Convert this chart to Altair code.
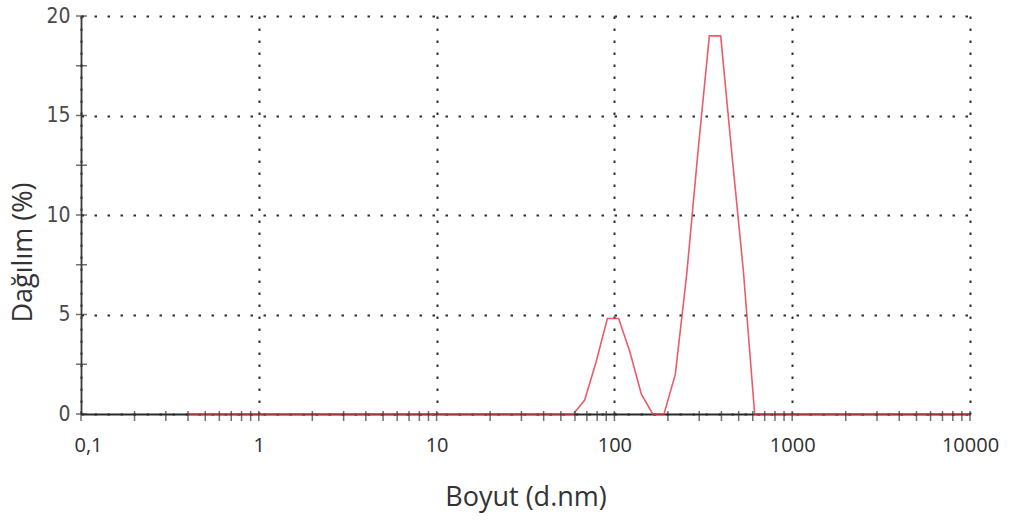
import altair as alt
import pandas as pd

# Size classes (d.nm) and intensity distribution (%)
sizes = [
    0.4, 0.4632, 0.5365, 0.6213, 0.7195, 0.8332, 0.9649,
    1.117, 1.294, 1.499, 1.736, 2.010, 2.328, 2.696, 3.122, 3.615, 4.187, 4.849, 5.615, 6.503, 7.531, 8.721,
    10.10, 11.70, 13.54, 15.69, 18.17, 21.04, 24.36, 28.21, 32.67, 37.84, 43.82, 50.75, 58.77, 68.06, 78.82, 91.28,
    105.7, 122.4, 141.8, 164.2, 190.1, 220.2, 255.0, 295.3, 342.0, 396.1, 458.7, 531.2, 615.1, 712.4, 825.0, 955.4,
    1106, 1281, 1484, 1718, 1990, 2305, 2669, 3091, 3580, 4145, 4801, 5560, 6439, 7456, 8635, 10000,
]
distribution = [
    0, 0, 0, 0, 0, 0, 0,
    0, 0, 0, 0, 0, 0, 0, 0, 0, 0, 0, 0, 0, 0, 0,
    0, 0, 0, 0, 0, 0, 0, 0, 0, 0, 0, 0, 0, 0.7, 2.6, 4.8,
    4.8, 3.1, 1.0, 0, 0, 2.0, 7.0, 13.2, 19.0, 19.0, 13.0, 7.2, 0, 0, 0, 0,
    0, 0, 0, 0, 0, 0, 0, 0, 0, 0, 0, 0, 0, 0, 0, 0,
]

# Axis positions
x_decades = [0.1, 1, 10, 100, 1000, 10000]
x_ticks = [
    0.1, 0.2, 0.3, 0.4, 0.5, 0.6, 0.7, 0.8, 0.9,
    1, 2, 3, 4, 5, 6, 7, 8, 9,
    10, 20, 30, 40, 50, 60, 70, 80, 90,
    100, 200, 300, 400, 500, 600, 700, 800, 900,
    1000, 2000, 3000, 4000, 5000, 6000, 7000, 8000, 9000,
    10000,
]
y_major = [0, 5, 10, 15, 20]
y_ticks = [0, 2.5, 5, 7.5, 10, 12.5, 15, 17.5, 20]

df = pd.DataFrame({"size": sizes, "pct": distribution})
df_xt = pd.DataFrame({"t": x_ticks})
df_yt = pd.DataFrame({"t": y_ticks})

x_scale = alt.Scale(type="log", domain=[0.1, 10000], nice=False)
y_scale = alt.Scale(domain=[0, 20], nice=False)

x_axis = alt.Axis(
    values=x_decades,
    labelExpr="datum.value < 0.5 ? '0,1' : format(datum.value, 'd')",
    labelOffset={"condition": {"test": "datum.value < 0.5", "value": 7}, "value": 0},
    labelFlush=False,
    labelOverlap=False,
    grid=True,
    gridDash=[2.5, 9.5],
    gridColor="#2e2e2e",
    gridWidth=2,
    domainColor="#2a2a2a",
    domainWidth=1.8,
    ticks=False,
    tickSize=0,
    labelFont="Open Sans",
    labelFontSize=20,
    labelColor="#2e2e2e",
    labelBaseline="middle",
    labelPadding=31,
    title="Boyut (d.nm)",
    titleFont="Open Sans",
    titleFontSize=27,
    titleFontWeight="normal",
    titleColor="#333333",
    titleBaseline="middle",
    titleY=83,
)

y_axis = alt.Axis(
    values=y_major,
    labelFlush=False,
    grid=True,
    gridDash=[2.5, 10.5],
    gridColor="#2e2e2e",
    gridWidth=2,
    domainColor="#3a3a3a",
    domainWidth=1.8,
    ticks=False,
    tickSize=0,
    labelFont="Liberation Sans Narrow, DejaVu Sans Condensed, Liberation Sans",
    labelFontSize=21,
    labelColor="#4a4a4a",
    labelPadding=11,
    title="Dağılım (%)",
    titleFont="Open Sans",
    titleFontSize=27,
    titleFontWeight="normal",
    titleColor="#333333",
    titleAngle=270,
    titleAlign="center",
    titleBaseline="middle",
    titleX=-58,
    titleY=236,
)

line = alt.Chart(df).mark_line(
    color="#e8404e", strokeWidth=1.6, opacity=0.85, interpolate="linear"
).encode(
    x=alt.X("size:Q", scale=x_scale, axis=x_axis),
    y=alt.Y("pct:Q", scale=y_scale, axis=y_axis),
)

x_tick_marks = alt.Chart(df_xt).mark_tick(
    orient="vertical", size=10, thickness=1.5, color="#333333", yOffset=2
).encode(
    x=alt.X("t:Q", scale=x_scale),
    y=alt.datum(0),
)

y_tick_marks = alt.Chart(df_yt).mark_tick(
    orient="horizontal", size=11, thickness=1.5, color="#333333", xOffset=0.5
).encode(
    x=alt.datum(0.1),
    y=alt.Y("t:Q", scale=y_scale),
)

chart = alt.layer(line, x_tick_marks, y_tick_marks).properties(
    width=889,
    height=398,
    background="white",
    padding={"left": 81, "top": 16, "right": 51, "bottom": 106},
    autosize=alt.AutoSizeParams(type="none"),
).configure_view(stroke="transparent")

chart.save("out.html", embed_options={"renderer": "svg", "actions": False})
